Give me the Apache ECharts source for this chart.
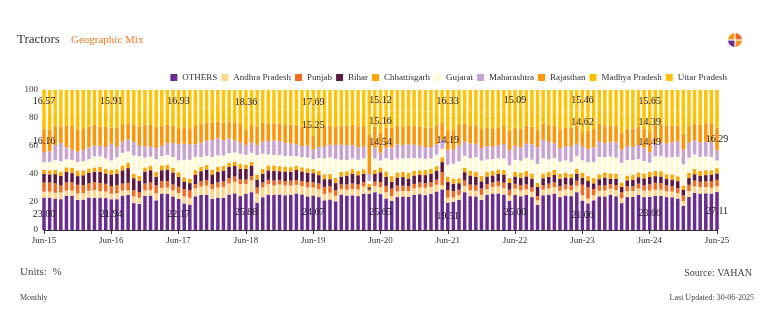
<!DOCTYPE html>
<html>
<head>
<meta charset="utf-8">
<script src="https://cdn.jsdelivr.net/npm/echarts@6/dist/echarts.min.js"></script>
<style>html,body{margin:0;padding:0;background:#fff;}#chart{width:780px;height:333px;}</style>
</head>
<body>
<div id="chart"></div>
<script>
// Categories: monthly Jun-15 .. Jun-25
const monthNames = ['Jun','Jul','Aug','Sep','Oct','Nov','Dec','Jan','Feb','Mar','Apr','May'];
const categories = [];
for (let y = 15; y <= 25; y++) {
  for (let m = 0; m < 12; m++) {
    const yr = m <= 6 ? y : y + 1;
    if (y === 25 && m > 0) break;
    categories.push(monthNames[m] + '-' + String(yr).padStart(2, '0'));
  }
}
const yTicks = [0, 20, 40, 60, 80, 100];

const OTHERS = [
23.00,23.1,22.4,22.0,24.5,24.3,21.5,21.6,23.2,23.0,23.1,22.8,
21.94,22.0,24.6,25.1,19.2,18.6,24.4,24.6,21.2,26.0,25.8,24.0,
22.17,19.0,18.2,24.1,25.0,25.2,22.3,23.1,23.0,25.3,26.2,24.2,
25.88,27.0,19.5,23.4,25.1,25.0,25.3,24.8,25.2,26.1,25.4,24.0,
24.67,23.5,21.2,21.8,20.5,25.3,24.6,24.8,24.2,26.0,26.0,27.0,
25.65,22.5,20.8,23.5,24.0,23.6,25.2,25.6,24.9,25.8,27.5,29.0,
19.51,20.2,21.6,27.0,24.2,24.0,21.5,25.0,26.0,26.1,25.3,21.0,
25.00,24.1,25.0,23.5,18.0,24.8,25.2,26.0,23.5,24.6,24.2,27.0,
21.06,19.0,21.2,24.0,24.0,25.0,24.1,19.2,23.5,23.6,25.1,23.5,
23.66,24.5,24.4,23.5,23.4,22.5,17.2,23.6,26.5,26.0,26.2,26.0,
27.11];
const ANDHRA = [
4.5,4.3,4.2,4.8,3.6,3.8,4.6,4.7,4.8,5.5,4.7,4.6,
4.0,4.2,3.5,3.4,4.8,4.5,3.8,3.9,5.0,4.1,4.5,4.3,
4.2,5.0,4.8,5.5,6.0,6.5,7.0,7.2,7.5,7.8,8.2,8.5,
7.0,8.5,6.5,7.0,7.5,6.8,7.2,7.0,6.5,6.2,6.0,6.5,
5.59,5.5,4.6,4.8,4.0,3.8,4.2,4.5,4.8,5.0,2.0,4.5,
5.0,4.5,3.5,4.0,3.8,4.2,4.5,4.8,5.2,5.0,4.8,3.0,
3.5,3.0,3.2,4.5,4.2,4.0,3.6,4.2,4.8,5.0,4.7,3.6,
4.5,4.2,4.0,3.8,3.2,4.0,4.5,4.6,4.5,4.4,4.2,4.6,
3.8,3.5,3.6,4.0,4.2,4.5,4.4,3.6,4.2,4.3,4.5,4.6,
4.5,4.2,4.4,4.2,4.0,3.8,3.5,4.2,4.8,4.6,4.4,4.2,
4.2];
const PUNJAB = [
6.5,6.5,6.8,5.0,5.8,6.0,6.2,5.8,5.5,5.7,5.8,5.6,
5.5,5.8,5.0,5.2,4.5,4.0,5.0,5.4,5.6,4.8,4.6,4.2,
4.5,5.2,5.5,3.2,3.8,4.0,3.5,3.8,4.2,4.0,3.8,3.5,
3.2,3.0,4.5,3.6,3.2,3.5,3.0,3.2,3.5,3.4,3.6,3.8,
3.8,4.2,5.0,4.5,4.0,3.5,3.8,4.0,3.6,3.2,1.0,3.0,
3.6,4.5,5.2,4.2,3.8,3.5,3.2,3.5,3.3,3.4,3.6,9.5,
5.5,4.6,4.0,3.8,4.0,4.2,4.5,3.5,3.2,3.6,3.8,4.2,
3.5,3.8,3.5,3.2,3.0,3.2,3.4,3.5,3.2,3.6,3.5,3.6,
7.5,8.0,4.5,3.8,3.5,3.2,3.6,4.2,3.6,3.4,3.5,3.8,
4.5,5.0,4.8,4.2,3.8,3.6,4.0,4.5,4.0,3.8,4.2,4.5,
4.5];
const BIHAR = [
6.0,5.8,6.5,6.8,7.5,6.5,6.2,7.0,7.2,7.5,8.0,7.4,
8.2,8.0,9.5,10.5,8.5,8.0,8.5,8.8,6.2,7.8,8.3,8.6,
7.0,5.5,5.0,6.5,7.2,7.5,6.8,7.4,7.8,8.0,7.5,7.6,
7.5,7.2,5.5,6.2,6.8,7.0,6.5,6.8,6.5,7.2,6.8,6.5,
6.5,6.0,5.5,5.2,5.0,5.5,6.2,6.8,6.5,6.0,1.5,5.5,
7.0,6.5,5.0,5.8,6.2,5.5,6.0,5.6,5.8,6.0,6.5,7.0,
6.0,5.2,4.6,6.0,6.5,5.8,5.2,5.5,5.0,5.4,5.6,4.8,
5.2,5.0,5.8,6.2,6.5,5.0,4.8,5.2,5.5,5.0,5.2,5.0,
5.0,4.5,4.0,4.5,5.8,4.0,4.5,3.8,4.2,4.5,4.6,5.0,
5.2,4.8,4.6,4.5,4.8,5.0,4.0,4.8,4.5,4.2,4.4,4.6,
4.6];
const CHHATTISGARH = [
3.0,3.0,3.2,3.0,3.4,3.8,4.0,3.5,3.2,3.0,3.5,3.2,
3.2,3.4,3.5,3.8,3.2,3.5,3.0,3.2,3.6,3.5,3.4,3.2,
3.4,3.0,3.2,3.5,3.0,3.2,3.6,3.5,3.2,3.0,3.2,3.4,
3.2,3.0,3.6,3.4,3.5,3.8,3.6,3.4,3.2,3.0,3.0,3.2,
3.0,3.2,3.4,3.6,3.8,3.5,3.2,3.4,3.0,3.2,2.5,3.0,
3.4,3.8,4.0,3.6,3.8,4.0,3.5,3.2,3.6,3.4,3.2,3.5,
3.5,3.8,3.6,3.2,3.4,3.6,3.8,3.4,3.2,3.0,3.4,3.6,
3.4,3.6,3.8,3.6,3.0,3.4,3.5,3.6,3.4,3.2,3.0,3.4,
3.6,3.5,3.8,3.4,3.6,3.8,3.6,3.2,3.4,3.6,3.5,3.4,
3.8,3.6,3.8,3.4,3.6,3.5,3.2,3.6,3.8,3.6,3.5,3.4,
3.8];
const GUJARAT = [
5.5,6.0,7.0,7.5,5.8,5.5,6.0,6.5,6.8,8.0,7.5,7.6,
6.8,8.5,9.0,8.2,13.0,14.0,7.0,6.5,9.0,6.5,7.0,7.8,
8.5,12.5,13.5,9.5,7.0,6.5,9.0,8.5,7.5,6.8,6.5,7.2,
7.0,6.5,14.0,11.0,8.0,7.5,8.0,7.6,8.0,6.8,7.2,7.8,
7.0,9.0,11.5,12.0,13.5,8.5,8.0,7.5,8.0,7.8,2.0,8.0,
5.0,9.5,11.5,10.0,9.5,10.5,9.0,8.5,8.0,7.5,8.2,6.0,
8.5,10.5,12.0,8.5,9.0,10.5,11.0,8.8,8.5,8.0,8.2,9.0,
8.5,8.8,9.5,10.0,13.5,11.0,9.0,8.5,8.8,9.0,8.6,9.2,
8.8,10.0,11.5,12.5,11.0,12.0,11.5,14.0,11.0,10.5,9.5,9.0,
6.5,10.5,11.0,12.0,12.5,14.0,15.0,11.0,10.5,10.0,9.8,9.5,
5.5];
const MAHARASHTRA = [
7.0,7.5,10.5,13.0,8.4,7.4,7.5,8.0,8.3,7.5,7.6,8.0,
12.0,7.5,8.0,8.5,9.8,7.5,8.0,7.2,8.0,7.5,8.5,10.0,
11.5,11.5,11.0,9.0,10.5,11.0,12.0,12.0,11.0,10.5,8.5,8.0,
7.0,7.5,7.0,8.5,9.5,10.5,10.0,9.5,9.0,8.5,8.0,8.5,
7.0,8.0,8.5,9.0,10.0,11.0,10.5,9.5,9.0,8.5,5.0,8.0,
5.53,7.5,9.0,10.0,9.5,10.0,9.5,9.0,8.5,8.0,7.5,6.5,
10.5,10.5,11.5,10.0,10.5,9.5,9.0,9.5,9.0,9.5,10.5,11.0,
10.0,9.5,10.0,11.0,12.0,13.0,12.5,10.5,9.5,10.0,11.0,9.0,
10.0,9.5,10.5,11.0,10.0,10.5,11.0,9.5,10.0,9.5,10.0,9.5,
7.31,9.0,9.5,10.0,10.5,11.0,10.5,10.5,10.0,10.5,10.8,10.5,
7.2];
const RAJASTHAN = [
16.16,15.5,13.5,12.0,15.5,17.0,16.0,15.5,15.0,15.0,13.8,14.5,
11.5,13.5,12.5,11.5,12.5,14.0,15.5,15.5,15.0,14.0,13.0,12.5,
11.5,12.0,11.5,13.0,13.5,13.0,12.5,12.0,12.5,12.0,13.0,13.5,
11.0,12.8,13.0,13.5,12.5,12.0,12.5,13.0,13.5,13.5,14.0,14.5,
9.5,14.0,14.5,13.5,13.0,13.5,14.0,14.5,15.0,14.5,28.0,15.0,
14.54,14.5,14.0,13.5,13.0,13.0,13.5,13.8,14.0,14.2,13.5,12.0,
14.19,14.0,14.5,13.0,12.5,13.0,13.5,13.0,12.5,12.8,13.0,13.5,
13.0,13.5,13.0,12.5,12.5,11.5,12.0,12.5,13.5,13.0,13.5,12.5,
10.16,13.0,13.5,12.5,12.0,11.5,11.5,12.0,12.5,13.0,13.0,13.5,
14.49,13.5,13.0,12.5,12.0,11.0,11.5,12.5,12.0,12.5,13.0,13.5,
16.29];
const MADHYA = [
11.77,12.0,11.4,11.0,11.2,11.5,12.2,11.8,11.3,10.8,11.5,11.6,
10.95,11.6,10.4,10.2,10.5,11.2,10.6,10.7,11.4,11.0,10.7,10.9,
10.30,11.3,11.8,11.0,10.3,10.0,10.0,9.6,10.0,9.7,9.9,10.3,
9.86,10.5,11.3,10.0,10.2,10.3,10.1,10.6,10.5,10.8,11.1,10.8,
15.25,11.4,11.0,11.0,11.2,10.9,10.9,10.7,11.1,11.0,13.5,11.1,
15.16,11.4,11.6,10.9,11.3,11.0,11.0,11.2,11.5,11.4,10.8,10.0,
12.47,12.1,10.7,10.3,11.0,10.9,12.0,11.6,11.9,11.4,10.9,12.5,
11.81,11.8,10.9,11.2,12.1,10.3,10.8,11.0,12.0,11.7,11.5,11.0,
14.62,12.4,11.7,10.4,11.1,10.9,11.0,13.0,11.8,11.8,11.3,11.9,
14.39,10.7,10.5,11.0,10.9,11.0,13.3,10.8,10.2,10.6,10.1,10.2,
13.2];
const UTTAR = [
16.57,16.3,14.5,14.9,14.3,14.2,15.8,15.6,14.7,14.0,14.5,14.7,
15.91,15.5,14.0,13.6,14.0,14.7,14.2,14.2,15.0,14.8,14.2,14.5,
16.93,15.0,15.5,14.7,13.7,13.1,13.3,12.9,13.3,12.9,13.2,13.8,
18.36,14.0,15.1,13.4,13.7,13.6,13.8,14.1,14.1,14.5,14.9,14.4,
17.69,15.2,14.8,14.6,15.0,14.5,14.6,14.3,14.8,14.8,18.5,14.9,
15.12,15.3,15.4,14.5,15.1,14.7,14.6,14.8,15.2,15.3,14.4,13.5,
16.33,16.1,14.3,13.7,14.7,14.5,15.9,15.5,15.9,15.2,14.6,16.8,
15.09,15.7,14.5,15.0,16.2,13.8,14.3,14.6,16.1,15.5,15.3,14.7,
15.46,16.6,15.7,13.9,14.8,14.6,14.8,17.5,15.8,15.8,15.0,15.8,
15.65,14.2,14.0,14.7,14.5,14.6,17.8,14.5,13.7,14.2,13.6,13.6,
13.6];

const seriesNames = ['OTHERS','Andhra Pradesh','Punjab','Bihar','Chhattisgarh','Gujarat','Maharashtra','Rajasthan','Madhya Pradesh','Uttar Pradesh'];
const seriesData = [OTHERS, ANDHRA, PUNJAB, BIHAR, CHHATTISGARH, GUJARAT, MAHARASHTRA, RAJASTHAN, MADHYA, UTTAR];
const colors = ['#6A2C91','#FFD58C','#F26B21','#5A1846','#FFA600','#FFFBD2','#C9A4D3','#FF9405','#FFC000','#FFC40A'];

const FONT = 'Liberation Serif';
const chart = echarts.init(document.getElementById('chart'), null, {renderer: 'canvas'});

const series = seriesNames.map((name, i) => ({
  name: name,
  type: 'bar',
  stack: 'total',
  data: seriesData[i],
  barWidth: 3.5,
  clip: false,
  itemStyle: {color: colors[i]},
  emphasis: {disabled: true},
  label: {
    show: true,
    position: 'inside',
    color: '#1a1a1a',
    fontFamily: FONT,
    fontSize: 10,
    formatter: p => (p.dataIndex % 12 === 0 && p.value >= 14) ? p.value.toFixed(2) : ''
  }
}));

chart.setOption({
  animation: false,
  color: colors,
  textStyle: {fontFamily: FONT},
  grid: {left: 44, right: 63, top: 90, bottom: 103},
  legend: {
    data: seriesNames,
    right: 48, top: 68,
    icon: 'rect', itemWidth: 7, itemHeight: 7, itemGap: 4,
    textStyle: {fontFamily: FONT, fontSize: 9, color: '#333'}
  },
  xAxis: {
    type: 'category',
    data: categories,
    boundaryGap: false,
    axisLine: {lineStyle: {color: '#333'}},
    axisTick: {show: true, interval: (i) => i % 12 === 0, length: 4, lineStyle: {color: '#333'}},
    axisLabel: {interval: (i) => i % 12 === 0, fontFamily: FONT, fontSize: 9, color: '#333', margin: 6},
    splitLine: {show: false}
  },
  yAxis: {
    type: 'value',
    min: yTicks[0], max: yTicks[yTicks.length - 1], interval: 20,
    axisLine: {show: true, lineStyle: {color: '#333'}},
    axisTick: {show: false},
    axisLabel: {fontFamily: FONT, fontSize: 9, color: '#333', margin: 6},
    splitLine: {show: true, lineStyle: {color: '#e8e8e8'}}
  },
  graphic: [
    {type: 'text', left: 17, top: 33, style: {text: 'Tractors', fontFamily: FONT, fontSize: 13, fill: '#333'}},
    {type: 'text', left: 71, top: 35, style: {text: 'Geographic Mix', fontFamily: FONT, fontSize: 11, fill: '#F47A20'}},
    {type: 'sector', shape: {cx: 735, cy: 40, r: 7, startAngle: Math.PI, endAngle: Math.PI * 1.5}, style: {fill: '#F7941D'}},
    {type: 'sector', shape: {cx: 735, cy: 40, r: 7, startAngle: Math.PI * 1.5, endAngle: Math.PI * 2}, style: {fill: '#F26522'}},
    {type: 'sector', shape: {cx: 735, cy: 40, r: 7, startAngle: Math.PI * 0.5, endAngle: Math.PI}, style: {fill: '#6A2C91'}},
    {type: 'sector', shape: {cx: 735, cy: 40, r: 7, startAngle: 0, endAngle: Math.PI * 0.5}, style: {fill: '#F7941D'}},
    {type: 'line', shape: {x1: 727, y1: 40, x2: 743, y2: 40}, style: {stroke: '#fff', lineWidth: 1.2}},
    {type: 'line', shape: {x1: 735, y1: 32, x2: 735, y2: 48}, style: {stroke: '#fff', lineWidth: 1.2}},
    {type: 'text', left: 20, top: 267, style: {text: 'Units:  %', fontFamily: FONT, fontSize: 11, fill: '#444'}},
    {type: 'text', right: 28, top: 268, style: {text: 'Source: VAHAN', fontFamily: FONT, fontSize: 10, fill: '#444'}},
    {type: 'text', left: 20, top: 294, style: {text: 'Monthly', fontFamily: FONT, fontSize: 8, fill: '#444'}},
    {type: 'text', right: 26, top: 294, style: {text: 'Last Updated: 30-06-2025', fontFamily: FONT, fontSize: 8, fill: '#444'}}
  ],
  series: series
});
</script>
</body>
</html>
